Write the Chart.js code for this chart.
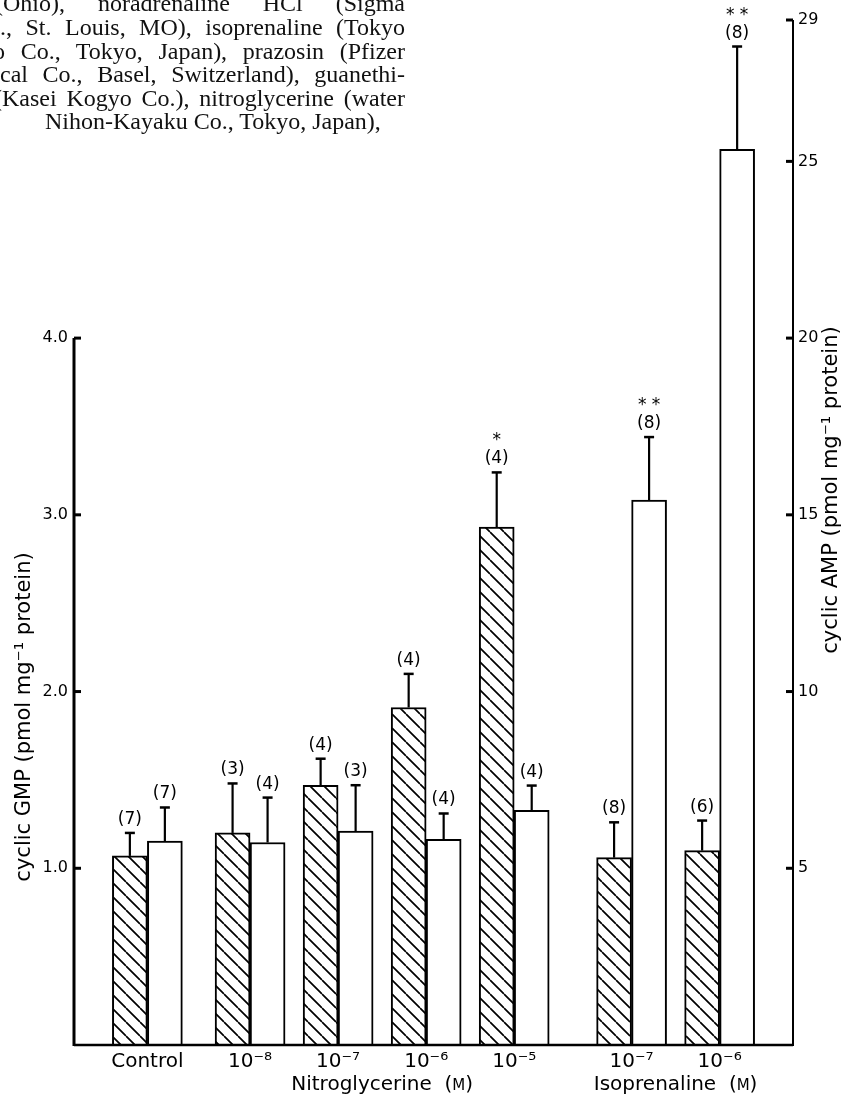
<!DOCTYPE html>
<html lang="en">
<head>
<meta charset="UTF-8">
<title>cyclic GMP / cyclic AMP</title>
<script src="https://cdn.jsdelivr.net/npm/chart.js@4.4.0/dist/chart.umd.min.js"></script>
<style>
    body { margin: 0; background: #fff; }
    #wrap { position: relative; width: 848px; height: 1096px; overflow: hidden; }
    #page div {
        position: absolute; right: 443px;
        font-family: "Liberation Serif", serif; font-size: 24px; line-height: 24px; color: #111;
        text-align: justify; text-align-last: justify; white-space: nowrap;
    }
    #page div.last { text-align-last: left; right: auto; }
    canvas { position: absolute; left: 0; top: 0; }
</style>
</head>
<body>
<div id="wrap">
    <canvas id="myChart" width="848" height="1096"></canvas>
    <div id="page">
        <div style="top:-9px; left:-5px;">(Ohio),&nbsp;&nbsp; noradrenaline&nbsp;&nbsp; HCl&nbsp;&nbsp; (Sigma</div>
        <div style="top:15px; left:0;">., St. Louis, MO), isoprenaline (Tokyo</div>
        <div style="top:39px; left:-7px;">o Co., Tokyo, Japan), prazosin (Pfizer</div>
        <div style="top:62px; left:0;">cal Co., Basel, Switzerland), guanethi-</div>
        <div style="top:86px; left:-6px;">(Kasei Kogyo Co.), nitroglycerine (water</div>
        <div class="last" style="top:109px; left:45px;">Nihon-Kayaku Co., Tokyo, Japan),</div>
    </div>
</div>
<script>
    // values
    const categories = ['Control', '10⁻⁸', '10⁻⁷', '10⁻⁶', '10⁻⁵', '10⁻⁷', '10⁻⁶'];
    const cgmp = [1.07, 1.20, 1.47, 1.91, 2.93, 1.06, 1.10];
    const cgmpErr = [0.13, 0.28, 0.15, 0.19, 0.31, 0.20, 0.17];
    const cgmpN = ['(7)', '(3)', '(4)', '(4)', '(4)', '(8)', '(6)'];
    const cgmpSig = ['', '', '', '', '*', '', ''];
    const camp = [5.77, 5.73, 6.05, 5.82, 6.64, 15.42, 25.34];
    const campErr = [0.95, 1.27, 1.30, 0.73, 0.70, 1.78, 2.91];
    const campN = ['(7)', '(4)', '(3)', '(4)', '(4)', '(8)', '(8)'];
    const campSig = ['', '', '', '', '', '* *', '* *'];
    const cgmpTicks = [1, 2, 3, 4];
    const campTicks = [5, 10, 15, 20, 25, 29];
    const groupNames = ['Nitroglycerine', 'Isoprenaline'];
    const groupMembers = [[1, 4], [5, 6]];

    // layout: categories sit on a grid of narrow slots so the gaps match the figure
    const slotOf = [5, 12, 18, 24, 30, 38, 44];
    const slotCount = 50;
    const slotLabels = Array(slotCount).fill('');
    slotOf.forEach((s, i) => slotLabels[s] = categories[i]);
    function toSlots(arr) {
        const out = Array(slotCount).fill(null);
        slotOf.forEach((s, i) => out[s] = arr[i]);
        return out;
    }

    const FONT = '"DejaVu Sans", sans-serif';

    function hatch() {
        const s = 14, c = document.createElement('canvas');
        c.width = c.height = s;
        const g = c.getContext('2d');
        g.fillStyle = '#fff';
        g.fillRect(0, 0, s, s);
        g.strokeStyle = '#000';
        g.lineWidth = 1.7;
        g.beginPath();
        [-s, 0, s].forEach(dx => { g.moveTo(dx, 0); g.lineTo(dx + s, s); });
        g.stroke();
        return g.createPattern(c, 'repeat');
    }

    const decor = {
        id: 'decor',
        afterDatasetsDraw(chart) {
            const {ctx, chartArea: a, scales} = chart;
            const yL = scales.yL, yR = scales.yR, x = scales.x;
            ctx.save();
            ctx.strokeStyle = '#000';
            ctx.fillStyle = '#000';
            const line = (x1, y1, x2, y2) => { ctx.beginPath(); ctx.moveTo(x1, y1); ctx.lineTo(x2, y2); ctx.stroke(); };

            // axes
            ctx.lineWidth = 3;
            line(a.left, a.bottom + 1, a.left, yL.getPixelForValue(cgmpTicks[cgmpTicks.length - 1]));
            ctx.lineWidth = 2;
            line(a.right, a.bottom + 1, a.right, yR.getPixelForValue(campTicks[campTicks.length - 1]));
            ctx.lineWidth = 2.5;
            line(a.left, a.bottom, a.right, a.bottom);
            ctx.lineWidth = 3;
            cgmpTicks.forEach(v => { const py = yL.getPixelForValue(v); line(a.left, py, a.left + 7, py); });
            campTicks.forEach(v => { const py = yR.getPixelForValue(v); line(a.right - 7, py, a.right, py); });

            // error bars, n and significance
            chart.data.datasets.forEach((ds, di) => {
                const meta = chart.getDatasetMeta(di);
                const sc = scales[ds.yAxisID];
                meta.data.forEach((bar, i) => {
                    const v = ds.data[i];
                    if (v === null) return;
                    const top = sc.getPixelForValue(v + ds.errors[i]);
                    ctx.lineWidth = 2.2;
                    line(bar.x, bar.y, bar.x, top);
                    ctx.lineWidth = 2.5;
                    line(bar.x - 5, top, bar.x + 5, top);
                    ctx.font = '17px ' + FONT;
                    ctx.textAlign = 'center';
                    ctx.textBaseline = 'alphabetic';
                    ctx.fillText(ds.nLabels[i], bar.x, top - 9);
                    if (ds.sig[i]) ctx.fillText(ds.sig[i], bar.x, top - 27);
                });
            });

            // group titles under the dose labels
            groupNames.forEach((name, gi) => {
                const [f, l] = groupMembers[gi];
                const cx = (x.getPixelForValue(slotOf[f]) + x.getPixelForValue(slotOf[l])) / 2;
                ctx.textBaseline = 'alphabetic';
                ctx.textAlign = 'left';
                ctx.font = '20px ' + FONT;
                const head = name + '  (', tail = ')';
                const wHead = ctx.measureText(head).width, wTail = ctx.measureText(tail).width;
                ctx.font = '15px ' + FONT;
                const wM = ctx.measureText('M').width;
                const px = cx - (wHead + wM + wTail) / 2;
                const by = a.bottom + 45;
                ctx.font = '20px ' + FONT;
                ctx.fillText(head, px, by);
                ctx.font = '15px ' + FONT;
                ctx.fillText('M', px + wHead, by);
                ctx.font = '20px ' + FONT;
                ctx.fillText(tail, px + wHead + wM, by);
            });

            // axis titles, both reading upward
            ctx.font = '21px ' + FONT;
            ctx.textAlign = 'center';
            ctx.textBaseline = 'middle';
            [[25, 717, 'cyclic GMP (pmol mg⁻¹ protein)'], [832, 490, 'cyclic AMP (pmol mg⁻¹ protein)']].forEach(([tx, ty, t]) => {
                ctx.save();
                ctx.translate(tx, ty);
                ctx.rotate(-Math.PI / 2);
                ctx.fillText(t, 0, 0);
                ctx.restore();
            });
            ctx.restore();
        }
    };

    const ctx = document.getElementById('myChart').getContext('2d');
    const chart = new Chart(ctx, {
        type: 'bar',
        data: {
            labels: slotLabels,
            datasets: [{
                label: 'cyclic GMP',
                data: toSlots(cgmp),
                errors: toSlots(cgmpErr),
                nLabels: toSlots(cgmpN),
                sig: toSlots(cgmpSig),
                yAxisID: 'yL',
                backgroundColor: hatch(),
                borderColor: '#000',
                borderWidth: 2,
                borderSkipped: 'bottom'
            }, {
                label: 'cyclic AMP',
                data: toSlots(camp),
                errors: toSlots(campErr),
                nLabels: toSlots(campN),
                sig: toSlots(campSig),
                yAxisID: 'yR',
                backgroundColor: '#fff',
                borderColor: '#000',
                borderWidth: 2,
                borderSkipped: 'bottom'
            }]
        },
        options: {
            responsive: false,
            animation: false,
            events: [],
            layout: { padding: { top: 20, left: 0, right: 0, bottom: 0 } },
            datasets: { bar: { barThickness: 35 } },
            plugins: { legend: { display: false }, tooltip: { enabled: false } },
            scales: {
                x: {
                    type: 'category',
                    offset: false,
                    grid: { display: false, drawTicks: false },
                    border: { display: false },
                    ticks: { autoSkip: false, maxRotation: 0, padding: 5, color: '#000', font: { family: FONT, size: 20 } },
                    afterFit(scale) { scale.height = 51; }
                },
                yL: {
                    position: 'left',
                    min: 0,
                    max: campTicks[campTicks.length - 1] / 5,
                    grid: { display: false, drawTicks: false },
                    border: { display: false },
                    afterBuildTicks(scale) { scale.ticks = cgmpTicks.map(v => ({ value: v })); },
                    ticks: { padding: 6, color: '#000', font: { family: FONT, size: 16 }, callback: v => v.toFixed(1) },
                    afterFit(scale) { scale.width = 74; }
                },
                yR: {
                    position: 'right',
                    min: 0,
                    max: campTicks[campTicks.length - 1],
                    grid: { display: false, drawTicks: false },
                    border: { display: false },
                    afterBuildTicks(scale) { scale.ticks = campTicks.map(v => ({ value: v })); },
                    ticks: { padding: 5, color: '#000', font: { family: FONT, size: 16 } },
                    afterFit(scale) { scale.width = 55; }
                }
            }
        },
        plugins: [decor]
    });
</script>
</body>
</html>
